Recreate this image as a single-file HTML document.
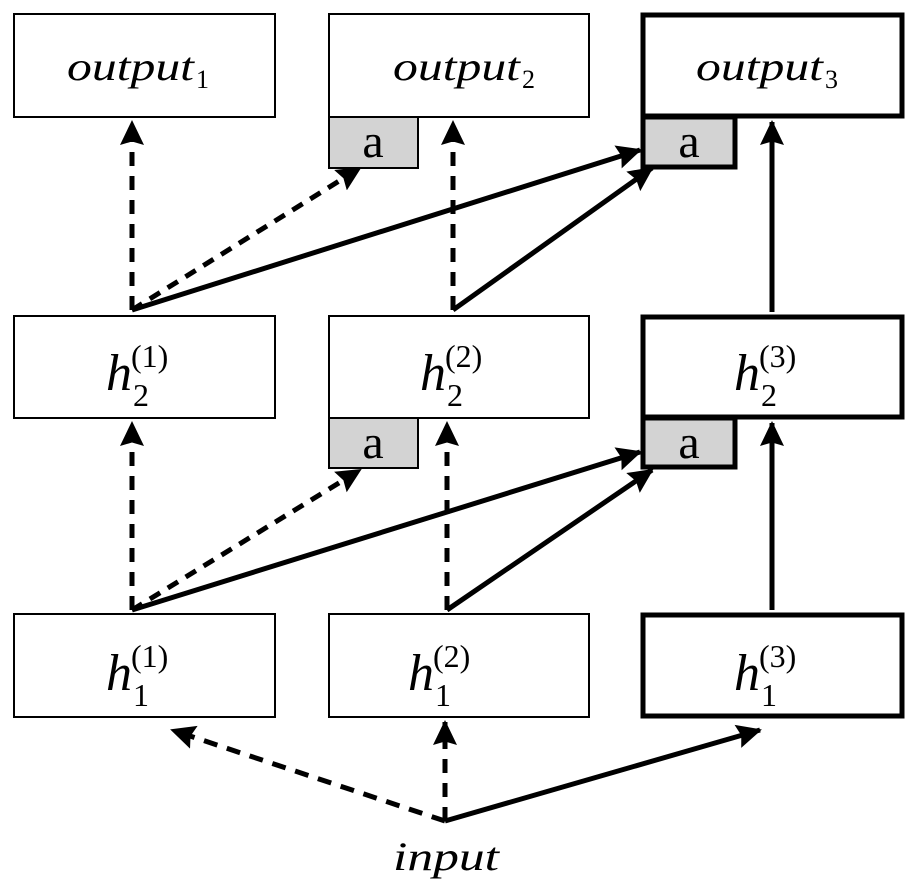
<!DOCTYPE html>
<html><head><meta charset="utf-8"><style>
html,body{margin:0;padding:0;background:#fff}
svg{display:block}
text{font-family:"Liberation Serif",serif}
</style></head><body>
<svg width="917" height="883" viewBox="0 0 917 883" xmlns="http://www.w3.org/2000/svg">
<defs>
<marker id="ah" markerWidth="6" markerHeight="6" refX="4.6" refY="2.6" orient="auto" markerUnits="strokeWidth">
<path d="M0,0.2 L5,2.6 L0,5 L0.7,2.6 Z" fill="#000"/>
</marker>
</defs>
<g fill="#fff" stroke="#000">
<rect x="14" y="14" width="261" height="103" stroke-width="2"/>
<rect x="329" y="14" width="260" height="103" stroke-width="2"/>
<rect x="643" y="15" width="259" height="101" stroke-width="5"/>
<rect x="14" y="316" width="261" height="102" stroke-width="2"/>
<rect x="329" y="316" width="260" height="102" stroke-width="2"/>
<rect x="643" y="317" width="259" height="100" stroke-width="5"/>
<rect x="14" y="614" width="261" height="103" stroke-width="2"/>
<rect x="329" y="614" width="260" height="103" stroke-width="2"/>
<rect x="643" y="615" width="259" height="101" stroke-width="5"/>
</g>
<g fill="#d3d3d3" stroke="#000">
<rect x="329" y="117" width="89" height="51" stroke-width="2"/>
<rect x="643" y="117" width="92" height="50" stroke-width="5"/>
<rect x="329" y="418" width="89" height="50" stroke-width="2"/>
<rect x="643" y="418" width="92" height="49" stroke-width="5"/>
</g>
<g font-size="48" text-anchor="middle">
<text x="373" y="157">a</text><text x="689" y="157">a</text>
<text x="373" y="458">a</text><text x="689" y="458">a</text>
</g>
<g font-size="40" font-style="italic">
<text x="67" y="80" textLength="127" lengthAdjust="spacingAndGlyphs">output</text><text x="196" y="88" font-style="normal" font-size="26">1</text>
<text x="393" y="80" textLength="127" lengthAdjust="spacingAndGlyphs">output</text><text x="522" y="88" font-style="normal" font-size="26">2</text>
<text x="696" y="80" textLength="127" lengthAdjust="spacingAndGlyphs">output</text><text x="825" y="88" font-style="normal" font-size="26">3</text>
<text x="393" y="870" textLength="106" lengthAdjust="spacingAndGlyphs">input</text>
</g>
<g font-size="52" font-style="italic">
<text x="106" y="390">h</text><text x="420" y="390">h</text><text x="734" y="390">h</text>
<text x="106" y="690">h</text><text x="408" y="690">h</text><text x="734" y="690">h</text>
</g>
<g font-size="32">
<text x="133" y="406">2</text><text x="447" y="406">2</text><text x="761" y="406">2</text>
<text x="133" y="706">1</text><text x="435" y="706">1</text><text x="761" y="706">1</text>
<text x="131" y="367">(1)</text><text x="445" y="367">(2)</text><text x="759" y="367">(3)</text>
<text x="131" y="667">(1)</text><text x="433" y="667">(2)</text><text x="759" y="667">(3)</text>
</g>
<g stroke="#000" stroke-width="5" fill="none" marker-end="url(#ah)">
<line x1="132" y1="310" x2="132" y2="122" stroke-dasharray="14,10"/>
<line x1="132" y1="310" x2="360" y2="168" stroke-dasharray="12,9"/>
<line x1="132" y1="310" x2="640" y2="150"/>
<line x1="453" y1="310" x2="453" y2="122" stroke-dasharray="14,10"/>
<line x1="453" y1="310" x2="652" y2="168"/>
<line x1="772" y1="312" x2="772" y2="122"/>
<line x1="132" y1="610" x2="132" y2="423" stroke-dasharray="14,10"/>
<line x1="132" y1="610" x2="360" y2="470" stroke-dasharray="12,9"/>
<line x1="132" y1="610" x2="640" y2="452"/>
<line x1="447" y1="610" x2="447" y2="423" stroke-dasharray="14,10"/>
<line x1="447" y1="610" x2="652" y2="470"/>
<line x1="772" y1="610" x2="772" y2="423"/>
<line x1="445" y1="821" x2="172" y2="730" stroke-dasharray="14,10"/>
<line x1="445" y1="821" x2="445" y2="722" stroke-dasharray="14,10"/>
<line x1="445" y1="821" x2="760" y2="730"/>
</g>
</svg>
</body></html>
